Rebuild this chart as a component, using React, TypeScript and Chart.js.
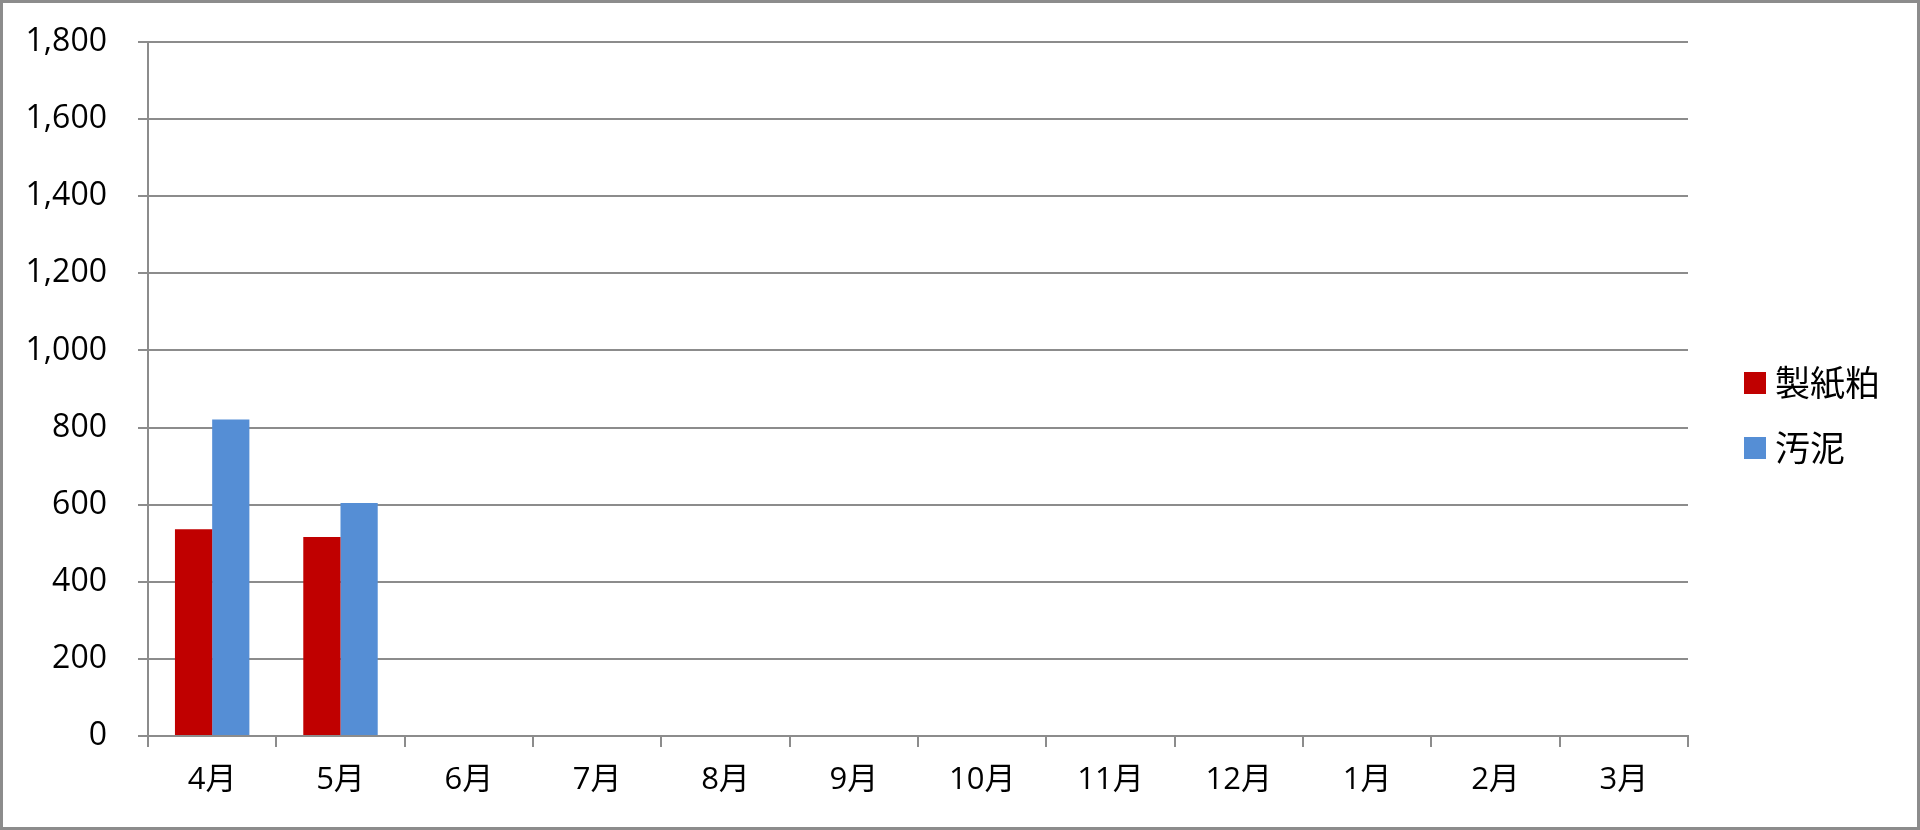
import React, { useEffect, useRef } from "react";
import { Chart, registerables } from "chart.js";

Chart.register(...registerables);

const categories = ["4月", "5月", "6月", "7月", "8月", "9月", "10月", "11月", "12月", "1月", "2月", "3月"];
const seishikasuValues: (number | null)[] = [536, 516, null, null, null, null, null, null, null, null, null, null];
const odeiValues: (number | null)[] = [821, 604, null, null, null, null, null, null, null, null, null, null];
const seriesNames = ["製紙粕", "汚泥"];
const seriesColors = ["#c00000", "#558ed5"];
const yMax = 1800;
const yStep = 200;

const FONT = "'Open Sans', 'Noto Sans CJK JP', sans-serif";
const GRID = "#8c8c8c";

export default function App() {
  const canvasRef = useRef<HTMLCanvasElement | null>(null);

  useEffect(() => {
    document.body.style.margin = "0";
    const canvas = canvasRef.current;
    if (!canvas) return;
    const chart = new Chart(canvas, {
      type: "bar",
      data: {
        labels: categories,
        datasets: [
          {
            label: seriesNames[0],
            data: seishikasuValues,
            backgroundColor: seriesColors[0],
            borderWidth: 0,
            categoryPercentage: 0.58,
            barPercentage: 1,
          },
          {
            label: seriesNames[1],
            data: odeiValues,
            backgroundColor: seriesColors[1],
            borderWidth: 0,
            categoryPercentage: 0.58,
            barPercentage: 1,
          },
        ],
      },
      options: {
        animation: false,
        responsive: false,
        devicePixelRatio: 1,
        layout: { padding: { left: 0, right: 232, top: 42, bottom: 0 } },
        plugins: {
          legend: { display: false },
          tooltip: { enabled: false },
        },
        scales: {
          x: {
            grid: {
              display: true,
              drawOnChartArea: false,
              drawTicks: true,
              tickLength: 11,
              color: GRID,
              lineWidth: 2,
              offset: true,
            },
            border: { display: true, color: GRID, width: 2 },
            ticks: {
              color: "#000",
              font: { family: FONT, size: 31 },
              padding: 15,
              maxRotation: 0,
              autoSkip: false,
            },
            afterFit: (scale: any) => {
              scale.height = 94;
              scale.paddingLeft = 0;
              scale.paddingRight = 0;
            },
          },
          y: {
            min: 0,
            max: yMax,
            grid: {
              display: true,
              drawOnChartArea: true,
              drawTicks: true,
              tickLength: 10,
              color: GRID,
              lineWidth: 2,
            },
            border: { display: true, color: GRID, width: 2 },
            ticks: {
              stepSize: yStep,
              color: "#000",
              font: { family: FONT, size: 32 },
              padding: 31,
              callback: (v: any) => Number(v).toLocaleString("en-US"),
            },
            afterFit: (scale: any) => {
              scale.width = 148;
              scale.paddingTop = 0;
              scale.paddingBottom = 0;
            },
          },
        },
      },
    });
    return () => chart.destroy();
  }, []);

  return (
    <div
      style={{
        position: "absolute",
        left: 0,
        top: 0,
        width: 1920,
        height: 830,
        background: "#fff",
        fontFamily: FONT,
      }}
    >
      <canvas
        ref={canvasRef}
        width={1920}
        height={830}
        style={{ position: "absolute", left: 0, top: 0, width: 1920, height: 830 }}
      />
      {seriesNames.map((name, i) => (
        <div
          key={name}
          style={{
            position: "absolute",
            left: 1744,
            top: 362 + i * 65,
            height: 42,
            display: "flex",
            alignItems: "center",
          }}
        >
          <span
            style={{
              display: "inline-block",
              width: 22,
              height: 22,
              background: seriesColors[i],
              marginRight: 9,
            }}
          />
          <span style={{ fontSize: 35, color: "#000", lineHeight: "42px" }}>{name}</span>
        </div>
      ))}
      <div
        style={{
          position: "absolute",
          left: 0,
          top: 0,
          width: 1920,
          height: 830,
          boxSizing: "border-box",
          border: "3px solid #8c8c8c",
          pointerEvents: "none",
        }}
      />
    </div>
  );
}
